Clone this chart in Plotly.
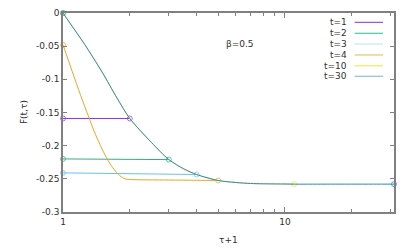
import plotly.graph_objects as go
import numpy as np

# ---- data ----
t1_x = [1, 2]
t1_y = [-0.159, -0.159]

t2_x = [1, 3]
t2_y = [-0.220, -0.221]

t3_x = [1, 4]
t3_y = [-0.241, -0.2435]

t4_x = [1, 1.1, 1.2, 1.3, 1.4, 1.5, 1.6, 1.7, 1.8, 1.9, 2.0, 3, 4, 5]
t4_y = [-0.048, -0.088, -0.124, -0.155, -0.183, -0.205, -0.223, -0.236,
        -0.245, -0.250, -0.2510, -0.2518, -0.2522, -0.2525]

curve_x = [1, 1.1, 1.25, 1.5, 1.75, 2, 2.5, 3, 3.5, 4, 5, 6, 7, 8, 10, 11,
           15, 20, 25, 31]
curve_y = [0.0, -0.020, -0.047, -0.089, -0.128, -0.159, -0.195, -0.221,
           -0.235, -0.2435, -0.2525, -0.2555, -0.257, -0.2575, -0.2578,
           -0.258, -0.258, -0.258, -0.258, -0.258]

t10_n = 16  # points of the common curve used by t=10 (up to tau+1 = 11)

labels = ["t=1", "t=2", "t=3", "t=4", "t=10", "t=30"]
colors = ["#9b30d9", "#2fae86", "#6cc0ea", "#e8a628", "#f0e442", "#2a8ab8"]
legend_colors = ["#a050d8", "#50c8a0", "#c8e6f4", "#f0c060", "#f0e870", "#90bce0"]

y_ticks = [0, -0.05, -0.1, -0.15, -0.2, -0.25, -0.3]
y_tick_text = ["0", "-0.05", "-0.1", "-0.15", "-0.2", "-0.25", "-0.3"]
x_ticks = [1, 10]
x_minor = [2, 3, 4, 5, 6, 7, 8, 9, 20, 30]

series = [
    (t1_x, t1_y, "linear", 1.0),
    (t2_x, t2_y, "linear", 1.0),
    (t3_x, t3_y, "linear", 1.0),
    (t4_x, t4_y, "spline", 1.0),
    (curve_x[:t10_n], curve_y[:t10_n], "spline", 1.0),
    (curve_x, curve_y, "spline", 1.0),
]

fig = go.Figure()
for (xs, ys, shape, w), lab, col in zip(series, labels, colors):
    sizes = [0] * len(xs)
    sizes[0] = 5
    sizes[-1] = 5
    fig.add_trace(go.Scatter(
        x=xs, y=ys, name=lab, mode="lines+markers",
        line=dict(color=col, width=w, shape=shape, smoothing=0.8),
        marker=dict(size=sizes, symbol="circle-open", color=col,
                    line=dict(width=1, color=col)),
        cliponaxis=False, showlegend=False,
    ))

# manual gnuplot-style key (text right-aligned, sample to its right)
key_y = [0.953, 0.898, 0.844, 0.789, 0.735, 0.682]
for lab, col, ky in zip(labels, legend_colors, key_y):
    fig.add_annotation(x=0.863, y=ky, xref="paper", yref="paper", text=lab,
                       showarrow=False, xanchor="right", yanchor="middle",
                       font=dict(size=9, color="#303030"))
    fig.add_shape(type="line", xref="paper", yref="paper",
                  x0=0.881, x1=0.967, y0=ky, y1=ky,
                  line=dict(color=col, width=1.2))

fig.add_annotation(x=0.534, y=0.879, xref="paper", yref="paper", text="β=0.5",
                   showarrow=False, font=dict(size=9, color="#303030"))

# axis titles placed like the reference
fig.add_annotation(x=0.5, y=-0.105, xref="paper", yref="paper", text="τ+1",
                   showarrow=False, xanchor="center", yanchor="top",
                   font=dict(size=9, color="#303030"))
fig.add_annotation(x=-0.119, y=0.5, xref="paper", yref="paper", text="F(t,τ)",
                   showarrow=False, textangle=-90, xanchor="center",
                   yanchor="middle", font=dict(size=9, color="#303030"))

axis_common = dict(
    showgrid=False, zeroline=False, showline=True, linecolor="#808080",
    linewidth=1.6, mirror="ticks", ticks="inside", tickcolor="#808080",
    tickwidth=1, tickfont=dict(size=9, color="#303030"), automargin=False,
)

fig.update_xaxes(
    type="log", range=[0, np.log10(31)], tickmode="array", tickvals=x_ticks,
    ticktext=["1", "10"], ticklen=5,
    minor=dict(ticks="inside", tickvals=x_minor, ticklen=3,
               tickcolor="#808080", showgrid=False),
    **axis_common,
)
fig.update_yaxes(
    range=[-0.3, 0], tickmode="array", tickvals=y_ticks, ticktext=y_tick_text,
    ticklen=4,
    **axis_common,
)

# page body has an 8px margin, so the figure is sized to fit the window
fig.update_layout(
    width=407, height=241,
    margin=dict(l=55, r=21, t=5, b=37, autoexpand=False),
    paper_bgcolor="white", plot_bgcolor="white",
    font=dict(family="DejaVu Sans", size=9, color="#303030"),
)

fig.write_html("out.html")
